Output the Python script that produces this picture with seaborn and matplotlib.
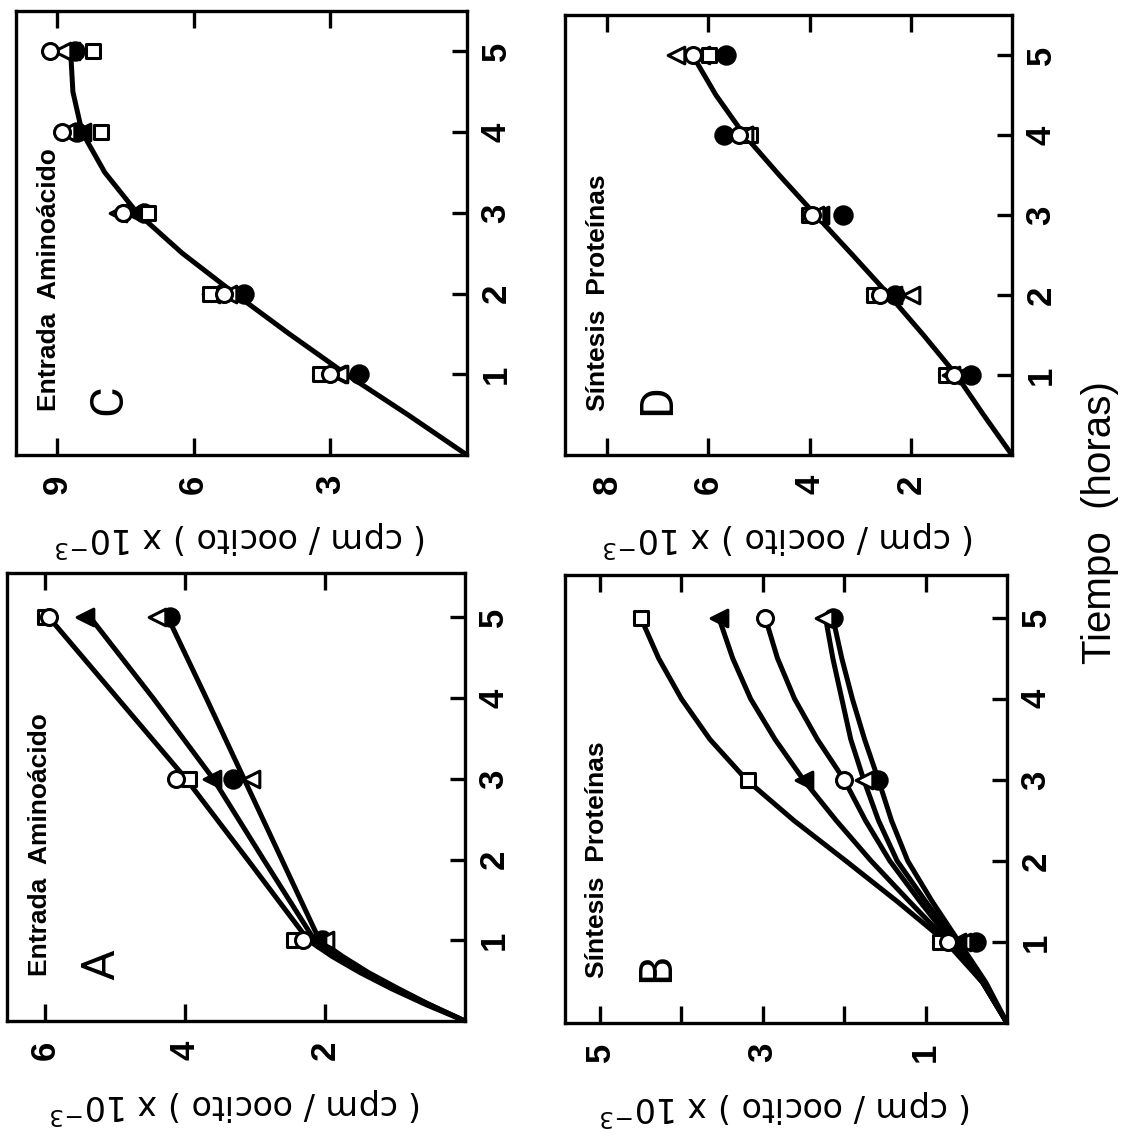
import numpy as np
import pandas as pd
import matplotlib
matplotlib.use("Agg")
import matplotlib.pyplot as plt
import seaborn as sns

sns.set_theme(style="white")
plt.rcParams['font.family'] = ['Liberation Sans', 'DejaVu Sans']
plt.rcParams['mathtext.default'] = 'regular'
plt.rcParams['text.color'] = 'black'
plt.rcParams['axes.labelcolor'] = 'black'
plt.rcParams['xtick.color'] = 'black'
plt.rcParams['ytick.color'] = 'black'

# ---------------- data (value in cpm/oocito x 10^-3, time in hours) ----------------
hours_marks_AB = [1, 3, 5]
hours_marks_CD = [1, 2, 3, 4, 5]

# Panel A: Entrada Aminoácido
A_open_square = [2.44, 3.95, 6.0]
A_open_circle = [2.32, 4.14, 5.95]
A_filled_tri = [2.12, 3.62, 5.43]
A_open_tri = [2.0, 3.06, 4.40]
A_filled_circle = [2.05, 3.32, 4.22]
A_curve_t = [0, 0.2, 0.4, 0.6, 0.8, 1, 2, 3, 4, 5]
A_curve_1 = [0, 0.55, 1.05, 1.50, 1.90, 2.24, 3.11, 3.99, 4.97, 5.95]
A_curve_2 = [0, 0.50, 1.00, 1.45, 1.82, 2.15, 2.88, 3.60, 4.46, 5.36]
A_curve_3 = [0, 0.50, 0.95, 1.38, 1.75, 2.08, 2.62, 3.16, 3.70, 4.25]

# Panel B: Síntesis Proteínas
B_open_square = [0.82, 3.18, 4.50]
B_filled_tri = [0.62, 2.50, 3.54]
B_open_circle = [0.73, 2.00, 2.97]
B_open_tri = [0.55, 1.76, 2.25]
B_filled_circle = [0.38, 1.58, 2.14]
B_curve_t = [0, 0.5, 1, 1.5, 2, 2.5, 3, 3.5, 4, 4.5, 5]
B_curve_sq = [0, 0.30, 0.75, 1.35, 1.98, 2.62, 3.20, 3.65, 4.00, 4.28, 4.50]
B_curve_ftri = [0, 0.30, 0.72, 1.20, 1.67, 2.10, 2.50, 2.85, 3.15, 3.37, 3.54]
B_curve_oc = [0, 0.30, 0.68, 1.07, 1.44, 1.74, 2.00, 2.33, 2.61, 2.82, 2.97]
B_curve_otri = [0, 0.28, 0.63, 1.00, 1.35, 1.58, 1.76, 1.92, 2.03, 2.14, 2.23]
B_curve_fc = [0, 0.26, 0.59, 0.92, 1.22, 1.42, 1.58, 1.75, 1.90, 2.03, 2.14]

# Panel C: Entrada Aminoácido
C_open_square = [3.23, 5.65, 7.00, 8.03, 8.20]
C_open_circle = [3.00, 5.34, 7.55, 8.88, 9.15]
C_filled_tri = [2.85, 5.62, 7.30, 8.45, 8.70]
C_open_tri = [2.80, 5.25, 7.66, 8.80, 8.90]
C_filled_circle = [2.37, 4.90, 7.10, 8.55, 8.60]
C_curve_t = [0, 0.5, 1, 1.5, 2, 2.5, 3, 3.5, 4, 4.5, 5]
C_curve = [0, 1.30, 2.65, 3.90, 5.10, 6.25, 7.24, 7.95, 8.45, 8.65, 8.70]

# Panel D: Síntesis Proteínas
D_open_square = [1.30, 2.72, 4.02, 5.17, 5.98]
D_open_circle = [1.15, 2.60, 3.95, 5.40, 6.30]
D_filled_tri = [1.00, 2.35, 3.80, 5.30, 6.15]
D_open_tri = [1.20, 2.00, 3.90, 5.30, 6.63]
D_filled_circle = [0.81, 2.32, 3.34, 5.69, 5.65]
D_curve_t = [0, 0.5, 1, 1.5, 2, 2.5, 3, 3.5, 4, 4.5, 4.9]
D_curve = [0, 0.56, 1.10, 1.75, 2.43, 3.15, 3.88, 4.60, 5.29, 5.85, 6.22]

time_ticks = [1, 2, 3, 4, 5]
time_labels = ['1', '2', '3', '4', '5']
titles = {'A': 'Entrada  Aminoácido', 'B': 'Síntesis  Proteínas',
          'C': 'Entrada  Aminoácido', 'D': 'Síntesis  Proteínas'}
ylabel_text = '( cpm / oocito ) x 10$^{-3}$'
xlabel_text = 'Tiempo  (horas)'

# ---------------- figure ----------------
fig = plt.figure(figsize=(11.31, 11.45), dpi=100)
axC = fig.add_axes([0.0141, 0.6026, 0.3988, 0.3878])
axD = fig.add_axes([0.4996, 0.6026, 0.3952, 0.3843])
axA = fig.add_axes([0.0062, 0.1083, 0.4049, 0.3913])
axB = fig.add_axes([0.4996, 0.1066, 0.3908, 0.3913])

marker_styles = {
    'open_square': dict(marker='s', color='white', s=9.5 ** 2),
    'open_circle': dict(marker='o', color='white', s=11.5 ** 2),
    'filled_tri': dict(marker='<', color='black', s=12 ** 2),
    'open_tri': dict(marker='<', color='white', s=12 ** 2),
    'filled_circle': dict(marker='o', color='black', s=12.5 ** 2),
}


def draw_marks(ax, t, series):
    for name, vals in series:
        st = marker_styles[name]
        sns.scatterplot(x=vals, y=t, marker=st['marker'], color=st['color'],
                        s=st['s'], edgecolor='black', linewidth=2.2, ax=ax,
                        zorder=4, legend=False)


def draw_curve(ax, t, vals):
    sns.lineplot(x=vals, y=t, sort=False, estimator=None, color='black',
                 linewidth=3.6, ax=ax, zorder=3, legend=False)


def style(ax, xlim, ylim, vticks, vlabels, key):
    ax.set_xlim(*xlim)
    ax.set_ylim(*ylim)
    ax.set_xticks(vticks)
    ax.set_xticklabels(vlabels, rotation=90, fontsize=25, fontweight='bold')
    ax.set_yticks(time_ticks)
    ax.set_yticklabels(time_labels, rotation=90, fontsize=25, fontweight='bold')
    ax.tick_params(axis='x', direction='in', bottom=True, top=True,
                   labelbottom=True, labeltop=False, length=12, width=2.4,
                   pad=14, colors='black')
    ax.tick_params(axis='y', direction='in', left=False, right=True,
                   labelleft=False, labelright=True, length=11, width=2.4,
                   pad=9, colors='black')
    for lbl in ax.get_yticklabels():
        lbl.set_va('center')
    for s in ax.spines.values():
        s.set_linewidth(2.4)
        s.set_color('black')
    ax.set_ylabel('')
    ax.set_xlabel(ylabel_text, rotation=180, fontsize=24,
                  family=['DejaVu Sans'], color='black')
    ax.xaxis.set_label_coords(0.5, -0.19)
    ax.xaxis.label.set_va('center')
    ax.text(0.073, 0.10, titles[key], rotation=90, ha='center', va='bottom',
            fontsize=19, fontweight='bold', color='black',
            transform=ax.transAxes)
    ax.text(0.205, 0.125, key, rotation=90, ha='center', va='center',
            fontsize=34, fontweight='normal', color='black',
            family=['Roboto', 'DejaVu Sans'], transform=ax.transAxes)
    ax.grid(False)
    ax.set_facecolor('white')


# Panel A
draw_curve(axA, A_curve_t, A_curve_1)
draw_curve(axA, A_curve_t, A_curve_2)
draw_curve(axA, A_curve_t, A_curve_3)
draw_marks(axA, hours_marks_AB, [('filled_circle', A_filled_circle), ('open_tri', A_open_tri),
                                 ('filled_tri', A_filled_tri), ('open_square', A_open_square),
                                 ('open_circle', A_open_circle)])
style(axA, (6.55, 0), (0, 5.55), [2, 4, 6], ['2', '4', '6'], 'A')

# Panel B
for cv in [B_curve_sq, B_curve_ftri, B_curve_oc, B_curve_otri, B_curve_fc]:
    draw_curve(axB, B_curve_t, cv)
draw_marks(axB, hours_marks_AB, [('filled_circle', B_filled_circle), ('open_tri', B_open_tri),
                                 ('filled_tri', B_filled_tri), ('open_square', B_open_square),
                                 ('open_circle', B_open_circle)])
style(axB, (5.43, 0), (0, 5.53), [1, 2, 3, 4, 5], ['1', '', '3', '', '5'], 'B')

# Panel C
draw_curve(axC, C_curve_t, C_curve)
draw_marks(axC, hours_marks_CD, [('filled_circle', C_filled_circle), ('filled_tri', C_filled_tri),
                                 ('open_square', C_open_square), ('open_tri', C_open_tri),
                                 ('open_circle', C_open_circle)])
style(axC, (9.9, 0), (0, 5.5), [3, 6, 9], ['3', '6', '9'], 'C')

# Panel D
draw_curve(axD, D_curve_t, D_curve)
draw_marks(axD, hours_marks_CD, [('filled_circle', D_filled_circle), ('filled_tri', D_filled_tri),
                                 ('open_square', D_open_square), ('open_tri', D_open_tri),
                                 ('open_circle', D_open_circle)])
style(axD, (8.83, 0), (0, 5.5), [2, 4, 6, 8], ['2', '4', '6', '8'], 'D')

fig.text(0.9726, 0.544, xlabel_text, rotation=90, ha='center', va='center',
         fontsize=29, color='black')

fig.savefig('out.png', dpi=100, facecolor='white')
